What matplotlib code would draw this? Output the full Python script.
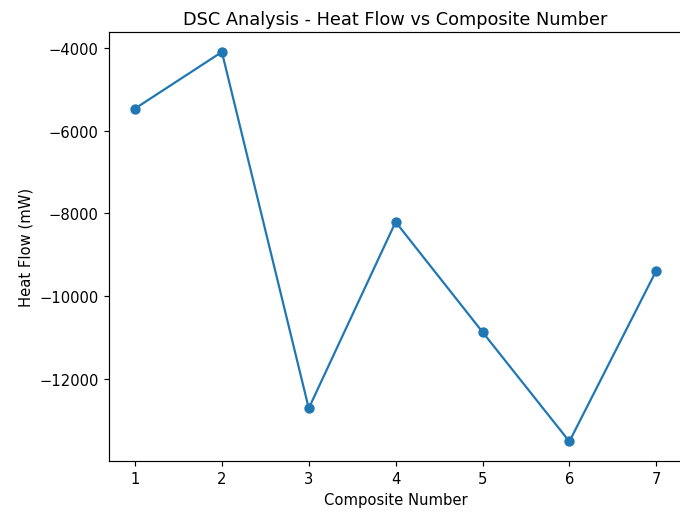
import matplotlib
matplotlib.use('Agg')
import matplotlib.pyplot as plt

composites = [1, 2, 3, 4, 5, 6, 7]
heat_flow = [-5470, -4105, -12700, -8205, -10860, -13500, -9380]

fig = plt.figure(figsize=(6.4, 4.84), dpi=106.4)
ax = fig.add_axes([0.160, 0.103, 0.842, 0.832])
ax.plot(composites, heat_flow, marker='o')
ax.set_xlabel('Composite Number')
ax.set_ylabel('Heat Flow (mW)')
ax.set_title('DSC Analysis - Heat Flow vs Composite Number')
fig.savefig('out.png', dpi=106.4)
